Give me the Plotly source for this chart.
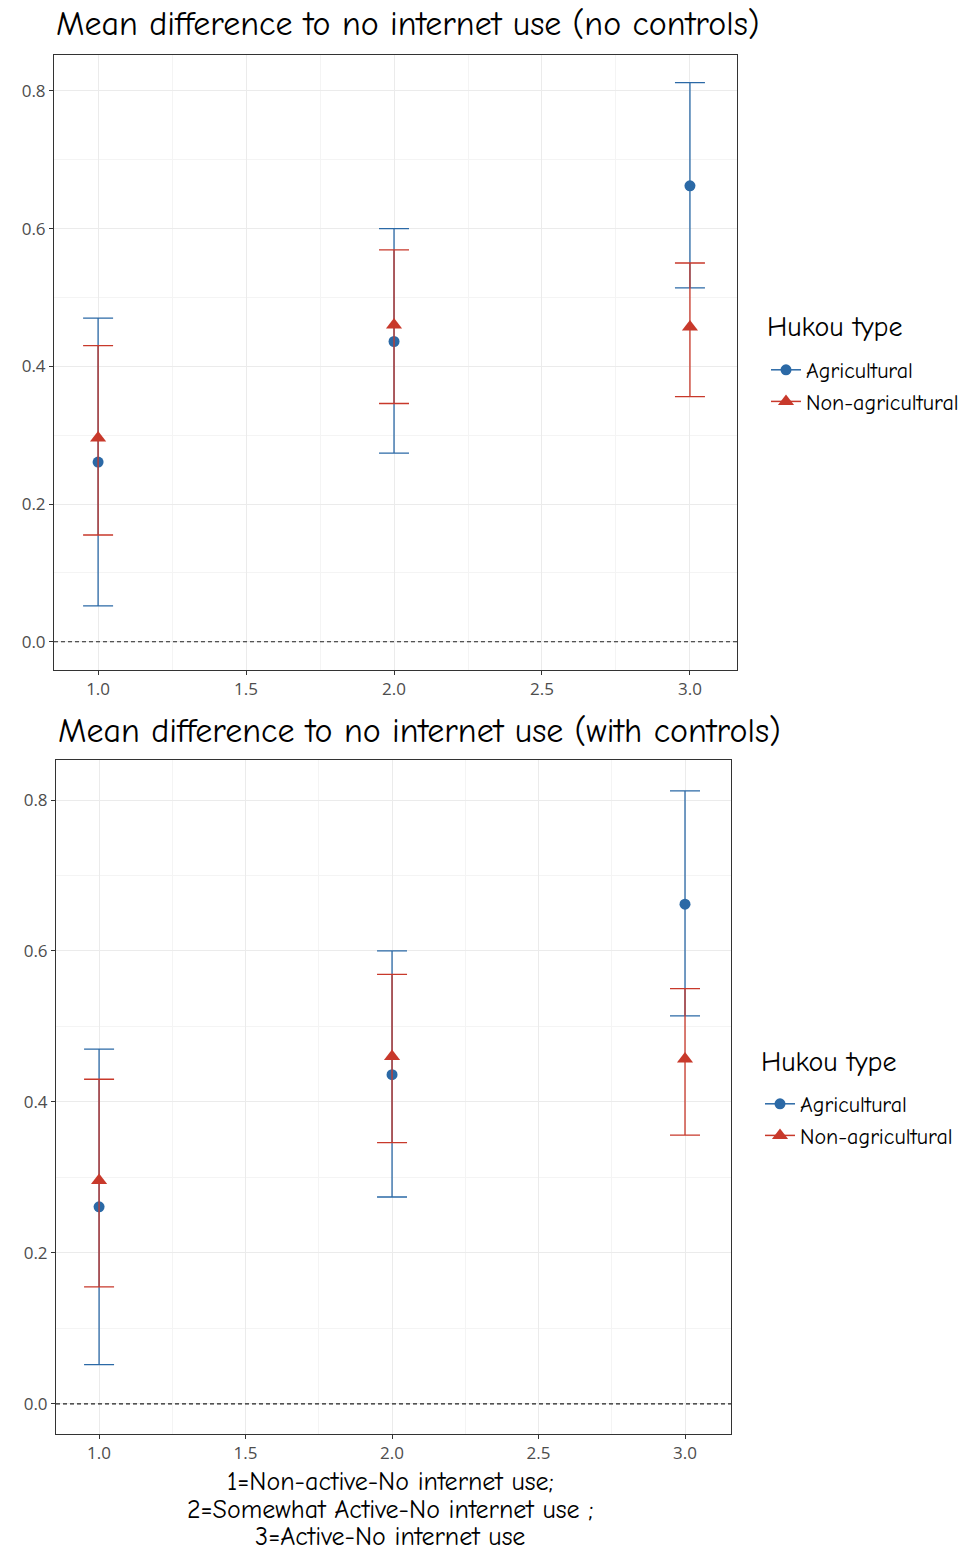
import plotly.graph_objects as go

# Activity group (x) and estimates for each hukou type
groups = [1.0, 2.0, 3.0]

agri_mean = [0.261, 0.436, 0.662]
agri_low = [0.052, 0.274, 0.514]
agri_high = [0.470, 0.600, 0.812]

nonagri_mean = [0.296, 0.460, 0.457]
nonagri_low = [0.155, 0.346, 0.356]
nonagri_high = [0.430, 0.569, 0.550]

y_ticks = [0.0, 0.2, 0.4, 0.6, 0.8]
x_ticks = [1.0, 1.5, 2.0, 2.5, 3.0]

x_title_lines = [
    "1=Non-active-No internet use;",
    "2=Somewhat Active-No internet use ;",
    "3=Active-No internet use",
]

BLUE = "#2B69A6"
RED = "#C8392B"
FONT = "Comic Sans MS, Comic Neue, Open Sans, sans-serif"
TICK_FONT = "Open Sans, sans-serif"

W, H = 972, 1555


def gapped(values):
    # insert gaps so the legend shows a line glyph without joining the points
    out = []
    for i, v in enumerate(values):
        if i:
            out.append(None)
        out.append(v)
    return out


def add_series(fig, row, x, mean, low, high, name, color, symbol, size, legend):
    plus = [h - m for h, m in zip(high, mean)]
    minus = [m - l for m, l in zip(mean, low)]
    fig.add_trace(go.Scatter(
        x=gapped(x), y=gapped(mean),
        mode="lines+markers", connectgaps=False,
        name=name, legend=legend,
        line=dict(color=color, width=1.5),
        marker=dict(color=color, size=size, symbol=symbol),
        error_y=dict(type="data", symmetric=False,
                     array=gapped(plus), arrayminus=gapped(minus),
                     color=color, thickness=1.3, width=15),
        xaxis="x" if row == 1 else "x2",
        yaxis="y" if row == 1 else "y2",
    ))


fig = go.Figure()
for row, leg in ((1, "legend"), (2, "legend2")):
    add_series(fig, row, groups, agri_mean, agri_low, agri_high,
               "Agricultural", BLUE, "circle", 11, leg)
    add_series(fig, row, groups, nonagri_mean, nonagri_low, nonagri_high,
               "Non-agricultural", RED, "triangle-up", 14, leg)


def px_x(a, b):
    return [a / W, b / W]


def px_y(top, bottom):
    return [1 - bottom / H, 1 - top / H]


axis_common = dict(
    showline=True, linecolor="#333333", linewidth=1, mirror=True,
    ticks="outside", ticklen=4, tickcolor="#333333",
    showgrid=True, gridcolor="#EBEBEB", gridwidth=1,
    zeroline=False,
    tickfont=dict(family=TICK_FONT, size=17, color="#4D4D4D"),
)
minor_x = dict(dtick=0.25, tick0=0.75, showgrid=True, gridcolor="#F4F4F4", ticks="")
minor_y = dict(dtick=0.1, tick0=0.1, showgrid=True, gridcolor="#F4F4F4", ticks="")

legend_common = dict(xanchor="left", yanchor="top", font=dict(family=FONT, size=22, color="black"),
                     bgcolor="rgba(0,0,0,0)", tracegroupgap=0, itemwidth=30)

fig.update_layout(
    width=W, height=H,
    margin=dict(l=0, r=0, t=0, b=0),
    plot_bgcolor="white", paper_bgcolor="white",
    xaxis=dict(domain=px_x(54, 737), range=[0.851, 3.159], tickvals=x_ticks,
               ticktext=[f"{v:.1f}" for v in x_ticks], anchor="y", minor=minor_x, **axis_common),
    yaxis=dict(domain=px_y(55, 670), range=[-0.041, 0.852], tickvals=y_ticks,
               ticktext=[f"{v:.1f}" for v in y_ticks], anchor="x", minor=minor_y, **axis_common),
    xaxis2=dict(domain=px_x(56, 731), range=[0.853, 3.157], tickvals=x_ticks,
                ticktext=[f"{v:.1f}" for v in x_ticks], anchor="y2", minor=minor_x, **axis_common),
    yaxis2=dict(domain=px_y(760, 1434), range=[-0.040, 0.853], tickvals=y_ticks,
                ticktext=[f"{v:.1f}" for v in y_ticks], anchor="x2", minor=minor_y, **axis_common),
    legend=dict(x=766 / W, y=1 - 349 / H, **legend_common),
    legend2=dict(x=760 / W, y=1 - 1083 / H, **legend_common),
)

annotations = [
    dict(text="Mean difference to no internet use (no controls)", x=54 / W, y=1 - 24 / H,
         xanchor="left", yanchor="middle", size=34),
    dict(text="Mean difference to no internet use (with controls)", x=56 / W, y=1 - 731 / H,
         xanchor="left", yanchor="middle", size=34),
    dict(text="Hukou type", x=765 / W, y=1 - 327 / H, xanchor="left", yanchor="middle", size=28),
    dict(text="Hukou type", x=759 / W, y=1 - 1062 / H, xanchor="left", yanchor="middle", size=28),
]
for line, yc in zip(x_title_lines, (1482, 1510, 1537)):
    annotations.append(dict(text=line, x=390 / W, y=1 - yc / H, xanchor="center",
                            yanchor="middle", size=26))

for a in annotations:
    size = a.pop("size")
    fig.add_annotation(xref="paper", yref="paper", showarrow=False,
                       font=dict(family=FONT, size=size, color="black"), **a)

# dashed reference line at zero in both panels
for xr, yr in (("x", "y"), ("x2", "y2")):
    fig.add_shape(type="line", xref=f"{xr} domain", yref=yr, x0=0, x1=1, y0=0, y1=0,
                  line=dict(color="#222222", width=1.2, dash="4px,3px"), layer="above")

fig.write_html("out.html")
